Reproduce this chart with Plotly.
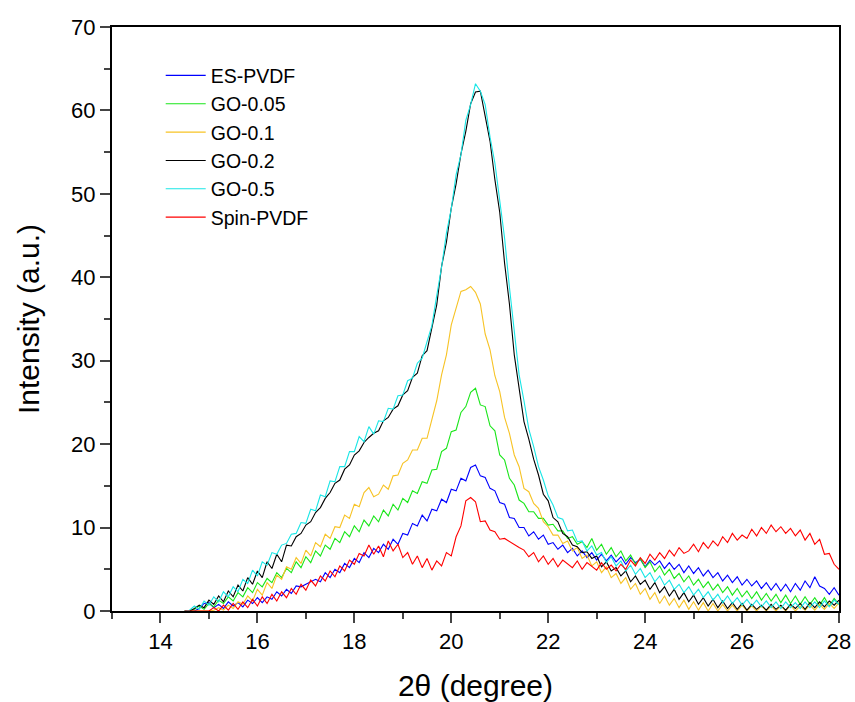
import numpy as np
import plotly.graph_objects as go

# 2-theta grid (degree), 14.5 .. 28.0 in 0.1 steps
two_theta = [round(14.5 + 0.1 * i, 1) for i in range(136)]

es_pvdf = [
    0, 0, 0, 0.3, 0.9, 1.0, 0.4, 0.8, 0.3, 1.1,
    0.6, 1.0, 0.5, 1.3, 0.9, 1.6, 1.0, 1.7, 1.4, 2.3,
    1.8, 2.6, 2.1, 3.0, 2.9, 3.2, 3.5, 3.8, 3.5, 4.6,
    4.0, 5.0, 4.6, 5.7, 5.2, 6.3, 5.8, 7.0, 6.4, 7.5,
    7.0, 8.0, 7.4, 8.6, 8.0, 9.3, 9.1, 10.5, 10.2, 11.5,
    10.8, 12.2, 12.0, 13.4, 13.0, 14.6, 14.4, 15.9, 15.6, 17.2,
    17.5, 16.2, 16.0, 14.7, 14.4, 13.0, 12.8, 11.2, 11.1, 10.0,
    10.0, 9.0, 9.5, 8.6, 9.1, 8.0, 8.2, 7.4, 7.9, 7.0,
    7.5, 6.6, 7.2, 6.4, 7.0, 6.1, 6.8, 6.0, 6.7, 5.9,
    6.5, 5.6, 6.4, 5.8, 6.2, 5.3, 6.1, 5.5, 6.0, 5.1,
    5.8, 5.0, 5.6, 4.6, 5.4, 4.5, 5.2, 4.2, 4.9, 4.0,
    4.6, 3.6, 4.3, 3.4, 4.1, 3.1, 3.8, 3.0, 3.6, 2.7,
    3.4, 2.5, 3.3, 2.4, 3.2, 2.3, 3.3, 2.5, 3.6, 2.8,
    4.1, 3.0, 2.7, 2.0, 2.8, 1.9,
]

go_005 = [
    0, 0, 0.2, 0.6, 0.2, 0.9, 0.5, 1.3, 0.9, 1.7,
    1.2, 2.2, 1.7, 2.8, 2.2, 3.4, 2.9, 3.9, 3.4, 4.6,
    4.0, 5.1, 4.6, 5.9, 5.2, 6.5, 5.8, 7.2, 6.6, 7.9,
    7.4, 8.7, 8.2, 9.5, 8.9, 10.2, 9.5, 10.9, 10.2, 11.4,
    10.7, 12.1, 11.4, 12.8, 12.1, 13.5, 13.0, 14.4, 14.1, 15.5,
    15.3, 16.9, 17.0, 19.1, 19.5, 21.5, 21.7, 23.8, 24.5, 26.2,
    26.7, 24.7, 24.5, 22.2, 21.6, 18.7, 18.1, 15.9, 15.1, 13.3,
    12.9, 11.9, 11.9, 11.1, 11.1, 10.3, 10.4, 9.6, 9.6, 8.7,
    8.9, 8.0, 8.3, 7.6, 8.7, 7.3, 8.0, 6.8, 7.6, 6.5,
    7.2, 6.0, 6.7, 5.6, 6.3, 5.2, 5.9, 4.7, 5.4, 4.3,
    5.0, 3.9, 4.5, 3.5, 4.2, 3.1, 3.8, 2.8, 3.5, 2.5,
    3.2, 2.2, 2.9, 1.9, 2.7, 1.7, 2.4, 1.5, 2.3, 1.3,
    2.1, 1.2, 2.0, 1.0, 1.9, 0.9, 1.8, 0.8, 1.7, 0.8,
    1.6, 0.7, 1.6, 0.6, 1.5, 0.8,
]

go_01 = [
    0, 0, 0, 0, 0, 0, 0.1, 0.4, 0.1, 0.7,
    0.3, 1.1, 0.8, 1.8, 1.2, 2.6, 1.9, 3.4, 2.7, 4.3,
    3.8, 5.3, 5.0, 6.4, 5.7, 7.3, 6.6, 8.2, 7.7, 9.2,
    8.7, 10.1, 10.0, 11.5, 11.1, 12.8, 12.5, 14.2, 14.8, 13.7,
    14.0, 15.1, 14.6, 16.2, 16.3, 17.7, 18.1, 19.3, 19.3, 20.7,
    20.7, 23.1, 25.2, 28.3, 30.7, 34.3, 36.2, 38.3, 38.5, 38.9,
    38.2, 36.8, 33.2, 31.3, 28.2, 26.3, 23.2, 21.3, 18.7, 17.3,
    14.7, 14.3, 12.9, 12.3, 10.7, 10.1, 9.1, 9.1, 8.1, 8.4,
    7.2, 7.6, 6.3, 6.7, 5.4, 5.9, 4.6, 5.3, 4.0, 4.5,
    3.3, 4.0, 2.6, 3.3, 2.0, 2.7, 1.4, 2.2, 0.9, 1.8,
    0.7, 1.5, 0.4, 1.3, 0.2, 1.1, 0.1, 1.0, 0.0, 0.9,
    0.0, 0.8, 0.0, 0.7, 0.0, 0.7, 0.0, 0.6, 0.0, 0.6,
    0.0, 0.6, 0.0, 0.6, 0.0, 0.7, 0.0, 0.6, 0.1, 0.7,
    0.1, 0.8, 0.2, 0.9, 0.3, 1.0,
]

go_02 = [
    0, 0, 0.3, 0.7, 0.4, 1.3, 0.8, 1.8, 1.1, 2.4,
    1.7, 3.1, 2.4, 4.0, 3.2, 4.8, 4.0, 5.9, 5.1, 6.8,
    5.9, 7.9, 7.8, 8.9, 9.3, 10.3, 10.7, 11.8, 12.4, 13.5,
    14.2, 15.3, 15.7, 17.0, 17.5, 18.7, 19.2, 20.2, 20.8, 21.3,
    21.6, 22.8, 23.2, 24.2, 24.6, 25.9, 26.4, 28.0, 28.5, 30.6,
    31.2, 34.1, 36.7, 41.3, 44.2, 48.3, 51.2, 54.8, 57.5, 60.8,
    62.2, 62.3, 59.2, 56.3, 51.7, 47.8, 41.7, 36.8, 30.7, 26.8,
    22.7, 20.6, 18.2, 16.3, 14.0, 13.2, 11.2, 10.7, 9.3, 8.9,
    7.9, 7.7, 7.0, 7.1, 6.3, 6.6, 5.3, 5.9, 4.8, 5.2,
    4.2, 4.8, 3.5, 4.2, 3.2, 3.7, 2.6, 3.4, 2.2, 2.9,
    1.8, 2.6, 1.4, 2.2, 1.1, 1.9, 0.8, 1.6, 0.6, 1.4,
    0.4, 1.2, 0.3, 1.0, 0.2, 0.9, 0.1, 0.8, 0.2, 0.7,
    0.1, 0.8, 0.2, 0.7, 0.1, 0.8, 0.3, 0.9, 0.2, 1.0,
    0.4, 1.1, 0.5, 1.2, 0.7, 1.3,
]

go_05 = [
    0, 0.1, 0.6, 0.2, 1.2, 0.7, 1.7, 1.1, 2.3, 1.7,
    2.9, 2.3, 3.8, 3.3, 4.9, 4.2, 5.9, 5.5, 7.0, 6.8,
    7.9, 8.1, 9.2, 9.3, 10.6, 10.5, 12.2, 12.0, 13.9, 13.7,
    15.6, 15.5, 17.3, 17.3, 19.1, 19.1, 20.9, 20.3, 22.1, 21.2,
    22.8, 22.7, 24.3, 24.2, 25.8, 25.9, 27.6, 27.9, 29.7, 30.3,
    32.3, 34.2, 37.8, 41.2, 45.3, 48.2, 52.3, 54.7, 58.8, 60.7,
    63.2, 62.3, 60.7, 56.8, 53.7, 49.3, 44.7, 38.8, 33.7, 28.3,
    25.2, 21.8, 19.7, 17.3, 15.7, 13.8, 12.7, 11.2, 11.0, 9.6,
    9.7, 8.3, 8.4, 7.2, 7.8, 6.7, 7.0, 5.8, 6.5, 5.4,
    6.0, 4.8, 5.5, 4.4, 5.1, 4.0, 4.6, 3.5, 4.2, 3.1,
    3.7, 2.6, 3.2, 2.2, 2.9, 1.9, 2.6, 1.6, 2.3, 1.3,
    2.0, 1.0, 1.8, 0.9, 1.6, 0.7, 1.4, 0.6, 1.3, 0.5,
    1.2, 0.4, 1.1, 0.3, 1.1, 0.4, 1.0, 0.3, 1.1, 0.4,
    1.1, 0.4, 1.2, 0.5, 1.3, 0.8,
]

spin_pvdf = [
    0, 0, 0, 0, 0, 0, 0.4, 0.0, 0.7, 0.1,
    0.9, 0.2, 1.1, 0.4, 1.4, 0.6, 1.7, 0.9, 2.0, 1.2,
    2.3, 1.6, 2.7, 2.0, 3.2, 2.5, 3.7, 3.0, 4.2, 3.6,
    4.8, 4.1, 5.4, 4.8, 6.1, 5.6, 6.9, 6.6, 7.9, 6.8,
    7.8, 6.5, 8.4, 7.2, 8.0, 6.4, 7.0, 5.6, 6.6, 5.2,
    6.3, 4.9, 6.0, 5.4, 7.0, 6.6, 8.9, 10.2, 13.2, 13.6,
    13.1, 10.7, 10.8, 9.7, 9.5, 8.6, 8.7, 8.3, 8.0, 7.6,
    7.3, 6.5, 7.0, 5.9, 6.6, 5.6, 6.3, 5.3, 6.1, 5.6,
    5.2, 6.0, 5.0, 5.8, 5.4, 4.9, 5.8, 5.0, 5.5, 4.8,
    5.6, 5.0, 6.1, 5.4, 6.4, 5.7, 6.8, 6.1, 7.0, 6.3,
    7.3, 6.6, 7.6, 6.9, 7.2, 8.0, 7.1, 8.2, 7.5, 8.4,
    7.8, 8.9, 8.2, 9.3, 8.5, 9.1, 8.7, 9.8, 9.0, 10.0,
    9.3, 10.3, 9.5, 10.1, 9.3, 9.9, 9.0, 9.7, 8.5, 9.3,
    8.0, 8.6, 6.8, 6.9, 5.6, 5.0,
]

series_names = ["ES-PVDF", "GO-0.05", "GO-0.1", "GO-0.2", "GO-0.5", "Spin-PVDF"]
series_values = [es_pvdf, go_005, go_01, go_02, go_05, spin_pvdf]
series_colors = ["#0000FF", "#19E619", "#F7C325", "#000000", "#19E6E6", "#FF0000"]

x_ticks = [14, 16, 18, 20, 22, 24, 26, 28]
y_ticks = [0, 10, 20, 30, 40, 50, 60, 70]

fig = go.Figure()
for name, vals, col in zip(series_names, series_values, series_colors):
    fig.add_trace(go.Scatter(x=two_theta, y=vals, mode="lines", name=name,
                             line=dict(color=col, width=1.1)))

font_family = "Liberation Sans, Arial, sans-serif"
fig.update_layout(
    width=855, height=702,
    margin=dict(l=112, r=16, t=27, b=91),
    paper_bgcolor="white", plot_bgcolor="white",
    font=dict(family=font_family, color="black"),
    showlegend=True,
    legend=dict(x=0.067, y=0.95, xanchor="left", yanchor="top",
                bgcolor="rgba(0,0,0,0)", font=dict(size=19.5, family=font_family),
                tracegroupgap=0, itemwidth=40),
)
fig.update_xaxes(
    range=[13, 28], tickvals=x_ticks, ticks="outside", ticklen=10, tickwidth=1.5,
    showline=True, linewidth=2, linecolor="black", mirror=True, showgrid=False,
    zeroline=False, tickfont=dict(size=22), automargin=False,
    ticklabeloverflow="allow",
    minor=dict(dtick=1, tick0=13, ticks="outside", ticklen=6, tickwidth=1.5),
    title=dict(text="2θ (degree)", font=dict(size=30), standoff=22),
)
fig.update_yaxes(
    range=[0, 70], tickvals=y_ticks, ticks="outside", ticklen=10, tickwidth=1.5,
    showline=True, linewidth=2, linecolor="black", mirror=True, showgrid=False,
    zeroline=False, tickfont=dict(size=22), automargin=False,
    ticklabeloverflow="allow",
    minor=dict(dtick=5, tick0=0, ticks="outside", ticklen=6, tickwidth=1.5),
    title=dict(text="Intensity (a.u.)", font=dict(size=30), standoff=23),
)

fig.write_html("out.html")
